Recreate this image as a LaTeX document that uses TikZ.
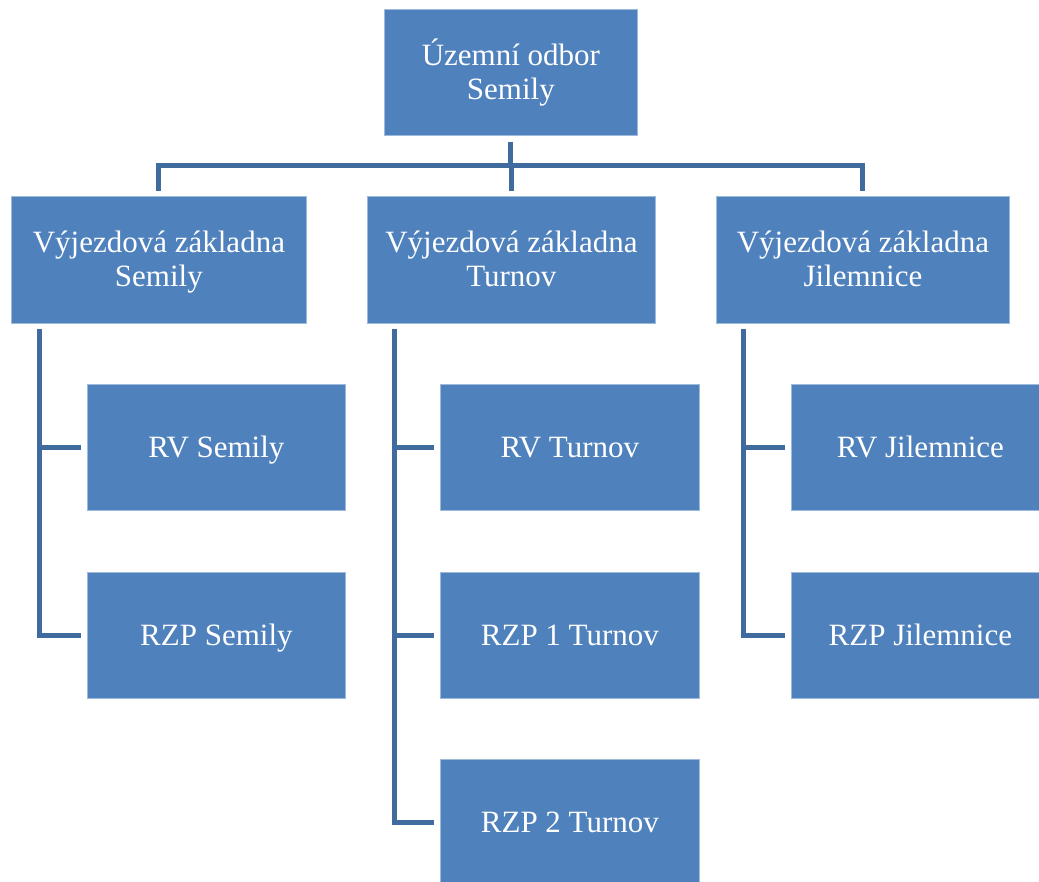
\documentclass[tikz,border=0pt]{standalone}
\usepackage{fontspec}
\setmainfont{Liberation Serif}
\definecolor{boxblue}{HTML}{4F81BD}
\definecolor{boxedge}{HTML}{9DB9DC}
\definecolor{linkblue}{HTML}{3F6B9E}
\newcommand\lnstrut{\rule[-6pt]{0pt}{32pt}}
\begin{document}
\begin{tikzpicture}[x=1pt,y=-1pt,
  orgbox/.style={rectangle, fill=boxblue, draw=boxedge, line width=0.8pt, inner sep=0pt,
    anchor=north west, text=white, align=center,
    font=\fontsize{31}{34}\selectfont},
  conn/.style={draw=linkblue, line width=5pt},
  treeconn/.style={conn, shorten <=6pt, shorten >=5pt},
  sideconn/.style={conn, shorten <=5pt, shorten >=6pt}]
\useasboundingbox[fill=white] (0,0) rectangle (1039,882);

\node[orgbox, minimum width=253pt, minimum height=126pt] (top) at (384,9) {\lnstrut Územní odbor\\\lnstrut Semily};

\node[orgbox, minimum width=295pt, minimum height=127pt] (vzS) at (11,196) {\lnstrut Výjezdová základna\\\lnstrut Semily};
\node[orgbox, minimum width=288pt, minimum height=127pt] (vzT) at (367,196) {\lnstrut Výjezdová základna\\\lnstrut Turnov};
\node[orgbox, minimum width=293pt, minimum height=127pt] (vzJ) at (716,196) {\lnstrut Výjezdová základna\\\lnstrut Jilemnice};

\node[orgbox, minimum width=258pt, minimum height=126pt] (rvS) at (87,384) {\lnstrut RV Semily};
\node[orgbox, minimum width=258pt, minimum height=126pt] (rzpS) at (87,572) {\lnstrut RZP Semily};

\node[orgbox, minimum width=259pt, minimum height=126pt] (rvT) at (440,384) {\lnstrut RV Turnov};
\node[orgbox, minimum width=259pt, minimum height=126pt] (rzp1T) at (440,572) {\lnstrut RZP 1 Turnov};
\node[orgbox, minimum width=259pt, minimum height=126pt] (rzp2T) at (440,759) {\lnstrut RZP 2 Turnov};

\node[orgbox, minimum width=258pt, minimum height=126pt] (rvJ) at (791,384) {\lnstrut RV Jilemnice};
\node[orgbox, minimum width=258pt, minimum height=126pt] (rzpJ) at (791,572) {\lnstrut RZP Jilemnice};

\draw[treeconn] (top.south) -- ++(0,30) -| (vzS.north);
\draw[treeconn] (top.south) -- ++(0,30) -| (vzT.north);
\draw[treeconn] (top.south) -- ++(0,30) -| (vzJ.north);

\draw[sideconn] ([xshift=28pt]vzS.south west) |- (rvS.west);
\draw[sideconn] ([xshift=28pt]vzS.south west) |- (rzpS.west);

\draw[sideconn] ([xshift=27pt]vzT.south west) |- (rvT.west);
\draw[sideconn] ([xshift=27pt]vzT.south west) |- (rzp1T.west);
\draw[sideconn] ([xshift=27pt]vzT.south west) |- (rzp2T.west);

\draw[sideconn] ([xshift=27pt]vzJ.south west) |- (rvJ.west);
\draw[sideconn] ([xshift=27pt]vzJ.south west) |- (rzpJ.west);
\end{tikzpicture}
\end{document}
